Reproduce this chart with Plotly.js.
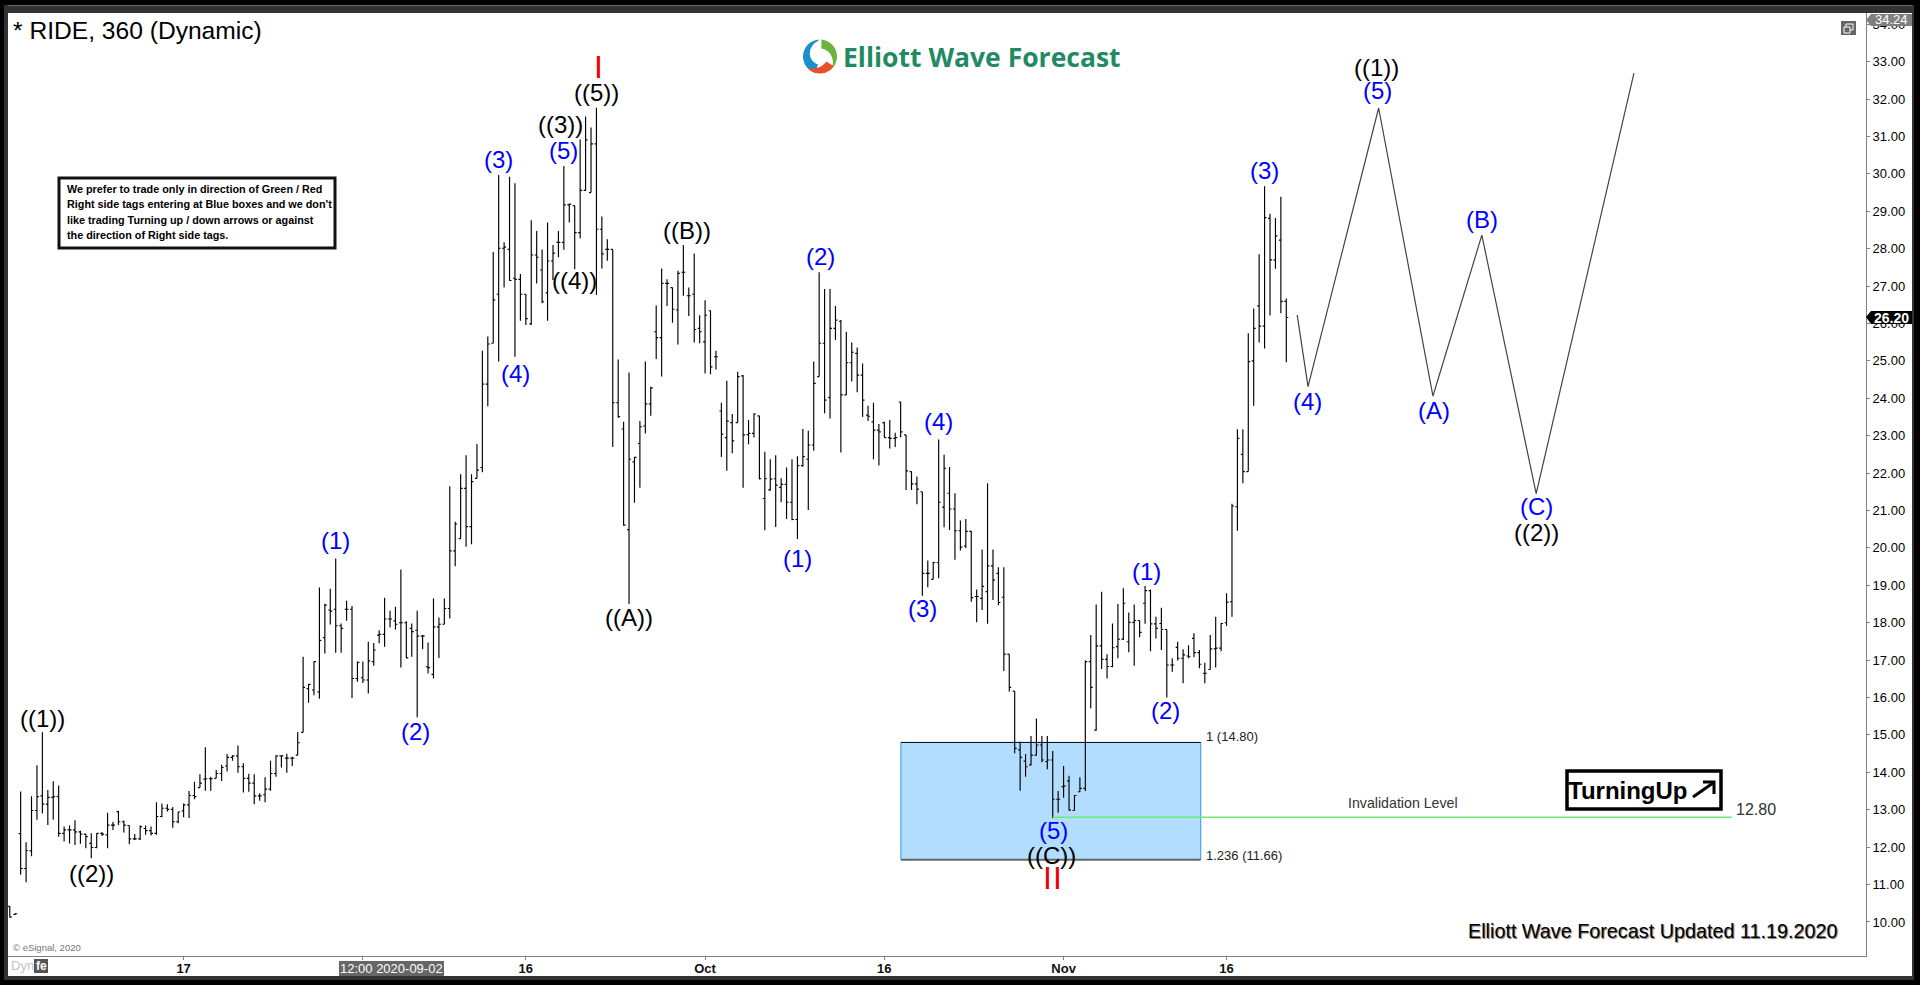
<!DOCTYPE html>
<html>
<head>
<meta charset="utf-8">
<script src="https://cdn.plot.ly/plotly-3.0.1.min.js"></script>
<style>html,body{margin:0;padding:0;background:#000;overflow:hidden}#chart{width:1920px;height:985px}</style>
</head>
<body>
<div id="chart"></div>
<script>
// ---------- chart values ----------
const opens = [
10.42,10.20,12.36,11.43,11.90,12.98,13.37,13.15,13.33,13.35,
12.37,12.46,12.46,12.41,12.35,12.10,11.99,12.37,12.33,12.59,
12.95,12.68,12.58,12.22,12.22,12.50,12.44,12.37,12.82,13.04,
13.01,12.68,12.97,13.13,13.38,13.59,13.82,13.83,13.84,13.97,
14.17,14.40,14.44,14.15,13.84,13.71,13.37,13.40,13.55,13.97,
14.44,14.38,14.38,14.46,15.07,16.24,16.20,16.15,17.60,18.34,
18.36,17.92,18.36,18.36,16.51,16.53,16.47,16.96,17.67,17.69,
18.10,18.05,18.00,18.00,17.85,17.80,17.64,16.82,16.62,17.89,
17.96,18.38,19.92,20.25,21.59,20.57,21.86,22.15,24.38,25.47,
26.78,28.01,27.98,27.21,27.18,26.78,25.99,27.83,27.43,26.82,
27.67,28.17,28.17,29.17,29.15,28.43,29.56,29.50,30.80,28.52,
27.98,27.98,23.88,23.18,20.49,22.30,22.79,23.26,23.85,25.78,
25.62,27.07,26.96,26.36,27.37,26.74,26.78,25.87,25.51,26.34,
25.11,23.66,22.95,23.35,23.35,24.60,23.03,23.06,23.53,21.32,
21.55,21.85,21.62,21.70,21.22,20.76,22.20,22.37,22.75,24.58,
25.47,24.02,25.87,26.06,24.09,24.95,25.20,24.62,23.55,23.37,
23.15,23.35,22.95,22.93,23.90,23.02,22.04,21.71,21.50,19.32,
19.16,19.61,21.09,21.46,21.04,20.46,20.05,20.44,18.70,18.65,
18.83,19.52,19.32,18.68,17.16,16.17,14.60,14.30,14.20,14.46,
14.73,14.29,14.33,13.28,13.62,13.77,12.98,13.48,13.57,16.96,
15.13,17.38,17.02,16.83,17.36,17.56,17.49,18.01,18.06,18.52,
18.86,17.97,17.98,17.82,16.87,17.34,17.05,17.11,17.58,17.20,
16.65,16.75,17.30,17.32,18.00,18.56,21.10,22.50,22.04,25.00,
26.47,25.93,28.81,27.70,28.23,26.59];
const highs = [
10.43,10.24,13.49,12.13,13.36,14.19,15.07,13.53,13.76,13.65,
12.55,12.58,12.72,12.44,12.35,12.37,12.37,12.40,12.92,12.68,
12.97,12.71,12.58,12.35,12.58,12.58,12.55,13.20,13.17,13.15,
13.07,12.95,13.17,13.50,13.75,13.95,14.67,13.88,14.06,14.20,
14.49,14.46,14.72,14.24,13.96,13.95,13.44,13.87,14.31,14.46,
14.46,14.50,14.42,15.07,17.09,16.36,16.96,18.94,18.51,18.91,
19.72,17.98,18.59,18.45,16.96,16.96,17.49,17.46,17.80,18.67,
18.32,18.43,19.42,18.04,17.98,18.32,17.67,17.47,18.65,18.14,
18.65,21.65,20.70,21.97,22.48,21.97,22.78,25.27,25.65,27.91,
29.97,28.17,29.92,29.75,27.32,26.78,28.76,28.47,27.98,28.70,
28.10,28.47,30.21,29.21,29.15,30.92,31.53,31.24,31.77,28.86,
28.25,27.98,25.04,23.37,24.69,22.44,23.39,24.98,24.31,26.48,
27.47,27.18,26.96,27.41,28.10,26.96,27.87,26.22,26.62,26.35,
25.27,23.88,24.47,23.58,24.71,24.62,23.42,23.60,23.53,22.57,
22.37,22.48,21.86,22.15,22.37,22.45,23.18,23.13,24.98,27.37,
26.92,26.92,26.47,26.09,25.78,25.49,25.36,24.93,23.80,23.88,
23.31,23.37,23.42,23.08,23.91,23.02,22.04,21.91,21.50,19.66,
19.63,22.90,22.49,22.16,21.46,20.73,20.77,20.46,18.89,19.96,
21.73,19.96,19.48,19.48,17.16,16.17,14.82,14.49,14.97,15.44,
14.97,14.97,14.57,13.50,14.17,13.91,13.39,13.87,16.99,17.67,
18.49,18.83,17.16,17.98,18.50,18.92,18.27,18.49,18.06,18.98,
18.89,18.16,18.40,17.82,17.05,17.49,17.29,17.40,17.72,17.27,
16.93,17.67,18.16,18.00,18.79,21.18,23.17,23.17,25.74,26.40,
27.85,29.67,28.93,28.82,29.39,26.67];
const lows = [
10.12,10.19,11.26,11.06,11.76,12.73,12.90,12.59,12.73,12.28,
12.15,12.10,12.06,12.09,11.97,11.70,11.97,12.30,11.97,12.46,
12.59,12.39,12.08,12.19,12.19,12.33,12.31,12.33,12.80,12.95,
12.52,12.64,12.80,12.78,13.28,13.59,13.51,13.51,13.84,13.77,
14.02,14.31,13.99,13.46,13.48,13.15,13.24,13.20,13.51,13.88,
14.13,13.99,14.17,14.46,15.07,15.86,16.06,15.97,17.18,17.95,
17.20,17.20,18.05,15.99,16.42,16.39,16.11,16.85,17.45,17.36,
17.87,17.82,16.80,17.05,17.09,15.47,17.29,16.64,16.51,17.06,
17.96,18.11,19.51,20.25,20.03,20.10,21.86,22.02,23.79,25.47,
24.98,26.96,27.14,25.11,26.07,25.96,25.96,27.07,26.54,26.07,
27.16,27.77,27.97,28.70,27.45,28.27,29.55,29.50,26.76,27.47,
27.68,22.70,23.48,20.59,18.50,21.21,21.61,23.06,23.53,25.05,
24.58,26.47,26.02,25.44,26.74,26.20,25.49,25.47,24.66,24.64,
24.77,22.43,22.06,22.53,23.35,21.61,22.77,22.95,21.83,20.47,
21.53,20.56,21.22,20.77,20.74,20.24,22.17,21.01,22.60,24.58,
23.60,23.46,25.56,22.55,24.09,24.45,24.16,23.50,23.39,22.37,
22.20,22.95,22.66,22.70,22.96,21.55,21.55,21.17,18.72,18.95,
19.16,19.19,20.55,20.48,19.68,19.93,20.00,18.56,18.01,18.34,
17.97,18.61,18.47,16.71,16.16,14.51,13.51,13.88,14.18,14.45,
14.27,14.08,12.77,12.92,13.32,12.98,12.98,13.48,13.50,15.71,
15.11,16.76,16.51,16.81,17.05,17.54,17.21,16.85,17.61,17.97,
17.24,17.58,17.27,16.00,16.69,16.99,16.38,17.05,17.08,16.78,
16.38,16.75,16.80,17.24,17.91,18.16,20.46,21.73,22.04,23.80,
25.49,25.33,26.21,27.46,26.27,24.96];
const closes = [
10.13,10.22,11.43,11.91,12.98,13.35,13.15,13.33,13.35,12.37,
12.46,12.46,12.41,12.35,12.28,11.99,12.37,12.35,12.59,12.59,
12.68,12.59,12.22,12.22,12.55,12.44,12.37,12.82,13.04,13.01,
12.68,12.94,13.13,13.38,13.35,13.71,13.83,13.83,13.97,14.13,
14.40,14.44,14.15,13.84,13.71,13.37,13.37,13.55,13.97,14.44,
14.44,14.38,14.38,14.79,16.27,16.35,16.96,17.53,18.47,18.31,
17.92,17.85,18.36,16.51,16.94,16.47,16.98,17.27,17.69,18.10,
18.10,17.96,18.00,17.06,17.76,17.64,17.65,16.80,17.89,17.96,
18.38,19.92,20.64,21.59,20.57,21.77,22.08,24.38,25.45,26.63,
28.01,28.04,27.15,27.18,26.78,26.13,27.83,27.77,26.58,27.67,
27.88,28.17,29.17,29.19,28.43,29.56,30.91,30.80,28.52,27.86,
27.98,23.88,23.51,20.61,22.37,22.42,23.24,23.85,24.28,25.62,
27.07,27.07,26.38,27.34,27.37,26.74,25.84,25.78,26.22,24.84,
25.11,23.04,23.39,22.86,24.58,23.02,23.06,23.58,21.85,21.85,
21.84,21.68,21.70,21.22,20.76,22.20,22.44,22.75,24.40,25.47,
23.95,25.87,26.09,24.09,24.95,25.23,24.62,23.95,23.52,23.15,
23.10,22.95,22.93,22.95,23.10,22.06,21.71,21.57,19.32,19.32,
19.61,21.22,22.13,21.04,20.46,20.02,20.44,18.67,18.70,18.97,
19.52,19.14,18.54,17.16,16.27,14.64,14.40,14.15,14.46,14.73,
14.33,14.33,13.28,13.28,13.63,12.99,13.38,13.57,16.96,16.27,
17.38,17.02,16.83,17.33,17.56,18.52,18.01,18.06,17.74,18.86,
17.97,17.85,17.82,16.87,16.87,17.05,17.14,17.09,17.20,16.89,
16.65,17.30,17.32,17.98,18.55,21.12,22.93,22.04,24.98,25.87,
25.93,28.83,27.70,28.34,26.59,26.16];

const forecastBars   = [237, 239, 252, 262, 271, 281, 299];
const forecastPrices = [26.23, 24.31, 31.76, 24.06, 28.36, 21.45, 32.69];

const xTickBars   = [32, 65, 95, 128, 161, 194, 224];
const xTickLabels = ['17', '', '16', 'Oct', '16', 'Nov', '16'];
const yTicks = [10,11,12,13,14,15,16,17,18,19,20,21,22,23,24,25,26,27,28,29,30,31,32,33,34];

const boxBars = [164.05, 219.25];
const boxTop = 14.80, boxBottom = 11.66;
const invalidationBars = [192, 317];
const invalidationLevel = 12.80;

// wave labels: text, bar, price
const blueLabels = [
 ['(1)',60.05,20.13],['(2)',74.7,15.02],['(3)',90.06,30.33],['(4)',93.1,24.6],['(5)',102,30.57],
 ['(2)',149.2,27.72],['(1)',145.1,19.65],['(3)',168,18.32],['(4)',171,23.31],['(5)',192.05,12.39],
 ['(1)',209.3,19.3],['(2)',212.8,15.59],['(3)',230.9,30.02],['(4)',238.9,23.85],['(5)',251.8,32.16],
 ['(A)',262.2,23.62],['(B)',271,28.72],['(C)',281.1,21.04]];
const blackLabels = [
 ['((1))',6.06,15.38],['((2))',14.95,11.24],['((3))',101.3,31.26],['((4))',104.05,27.08],['((5))',108.05,32.11],
 ['((A))',114.06,18.08],['((B))',124.6,28.43],['((C))',191.8,11.72],['((1))',251.65,32.78],['((2))',281.1,20.34]];
const redLabels = [['I',108.3,32.79],['I',191,11.12],['I',192.8,11.12]];

const noteLines = [
 'We prefer to trade only in direction of Green / Red',
 "Right side tags entering at Blue boxes and we don't",
 'like trading Turning up / down arrows or against',
 'the direction of Right side tags.'];

// ---------- page geometry ----------
const L=8, R=1866, T=13, B=956;
const px = x => (x-L)/(R-L);
const py = y => (B-y)/(B-T);
const FONT = 'Liberation Sans, Arial, sans-serif';
const NARROW = 'Liberation Sans Narrow, Liberation Sans, Arial, sans-serif';

function rectPx(x0,y0,x1,y1,fill,layer,lineColor,lineWidth){
  return {type:'rect',xref:'paper',yref:'paper',x0:px(x0),x1:px(x1),y0:py(y1),y1:py(y0),
    fillcolor:fill,layer:layer||'below',line:{color:lineColor||fill,width:lineColor?(lineWidth||1):0}};
}
function pathPx(points,fill,lineColor,lineWidth,closed){
  const d = points.map((p,i)=>(i?'L ':'M ')+px(p[0]).toFixed(6)+' '+py(p[1]).toFixed(6)).join(' ')+(closed?' Z':'');
  return {type:'path',xref:'paper',yref:'paper',path:d,fillcolor:fill||'rgba(0,0,0,0)',layer:'above',
    line:{color:lineColor||'rgba(0,0,0,0)',width:lineColor?(lineWidth||1):0}};
}
function textPx(text,x,y,size,color,opts){
  return Object.assign({xref:'paper',yref:'paper',x:px(x),y:py(y),text:text,showarrow:false,
    xanchor:'center',yanchor:'middle',font:{family:FONT,size:size,color:color}},opts||{});
}
function waveLabel(item,color,size){
  return {xref:'x',yref:'y',x:item[1],y:item[2],yshift:2.2,text:item[0],showarrow:false,
    xanchor:'center',yanchor:'middle',font:{family:FONT,size:size,color:color}};
}
function blade(cx,cy,a0,a1,rO,rI,color){
  const pts=[];
  for(let a=a0;a<=a1;a+=8){const t=a*Math.PI/180;pts.push([cx+rO*Math.cos(t),cy+rO*Math.sin(t)]);}
  for(let a=a1;a>=a0;a-=8){const t=a*Math.PI/180;const f=(a-a0)/(a1-a0);const r=rI+(rO-rI-1)*f*f;
    pts.push([cx+r*Math.cos(t),cy+r*Math.sin(t)]);}
  return pathPx(pts,color,null,0,true);
}

// ---------- shapes ----------
const shapes = [
  // window frame
  rectPx(4,5,1914,13,'#333333'),
  rectPx(4,5,1914,6,'#6a6a6a'),
  rectPx(4,5,8,980,'#333333'),
  rectPx(1912,5,1914,980,'#333333'),
  rectPx(4,976,1914,980,'#333333'),
  rectPx(8,956,1912,976,'#ffffff'),
  rectPx(1866,13,1912,976,'#ffffff'),
  // blue entry box
  {type:'rect',xref:'x',yref:'y',x0:boxBars[0],x1:boxBars[1],y0:boxBottom,y1:boxTop,
   fillcolor:'#b3ddff',layer:'below',line:{width:0}},
  {type:'line',xref:'x',yref:'y',x0:boxBars[0],x1:boxBars[0],y0:boxBottom,y1:boxTop,layer:'below',line:{color:'#2a97ea',width:1}},
  {type:'line',xref:'x',yref:'y',x0:boxBars[1],x1:boxBars[1],y0:boxBottom,y1:boxTop,layer:'below',line:{color:'#2a97ea',width:1}},
  {type:'line',xref:'x',yref:'y',x0:boxBars[0],x1:boxBars[1],y0:boxTop,y1:boxTop,layer:'below',line:{color:'#000000',width:1}},
  {type:'line',xref:'x',yref:'y',x0:boxBars[0],x1:boxBars[1],y0:boxBottom,y1:boxBottom,layer:'below',line:{color:'#666666',width:2}},
  // invalidation level
  {type:'line',xref:'x',yref:'y',x0:invalidationBars[0],x1:invalidationBars[1],y0:invalidationLevel,y1:invalidationLevel,
   layer:'above',line:{color:'#66ee77',width:1.5}},
  // note box
  rectPx(59,178,335,248,'#ffffff','below','#111111',3),
  // turning-up box
  rectPx(1567,771,1721,809,'#ffffff','below','#000000',3.5),
  // price tags
  pathPx([[1866,20],[1871,14],[1912,14],[1912,26],[1871,26]],'#808080',null,0,true),
  pathPx([[1866,317],[1871,311],[1912,311],[1912,324],[1871,324]],'#000000',null,0,true),
  // window button
  rectPx(1841,21,1856,35,'#666666','above'),
  rectPx(1846,24,1853,30,'rgba(0,0,0,0)','above','#ffffff',1),
  rectPx(1844,27,1850,33,'#666666','above','#ffffff',1),
  // fe icon
  rectPx(34,959,48,973,'#555555','below'),
  // crosshair date box
  rectPx(339,961,444,976,'#666666','above'),
  // turning-up arrow
  pathPx([[1693,797],[1713,783]],null,'#000000',3),
  pathPx([[1703,782],[1714,782],[1714,794]],null,'#000000',3),
  // logo
  blade(820,56.5,105,265,17,8,'#1b8fc9'),
  blade(820,56.5,-85,40,17,8,'#6cb33f'),
  blade(820,56.5,35,135,17,8,'#e8502a')
];

// ---------- annotations ----------
const annotations = []
  .concat(blueLabels.map(l=>waveLabel(l,'#0000ff',24)))
  .concat(blackLabels.map(l=>waveLabel(l,'#000000',24)))
  .concat(redLabels.map(l=>waveLabel(l,'#ee0000',32)))
  .concat(noteLines.map((t,i)=>textPx(t,64.5,189+i*15.35,10.8,'#000000',{xanchor:'left',font:{family:FONT,size:10.8,color:'#000',weight:'bold'}})))
  .concat([
    textPx('* RIDE, 360 (Dynamic)',10.5,31,24.6,'#000000',{xanchor:'left'}),
    textPx('Elliott Wave Forecast',841,57.5,26.5,'#1f8a63',{xanchor:'left',font:{family:'Open Sans, '+FONT,size:26.5,color:'#1f8a63',weight:'bold'}}),
    textPx('1 (14.80)',1204,736.5,13,'#222222',{xanchor:'left'}),
    textPx('1.236 (11.66)',1204,855,13,'#222222',{xanchor:'left'}),
    textPx('Invalidation Level',1403,803,14.2,'#333333'),
    textPx('12.80',1756,809,16,'#333333'),
    textPx('TurningUp',1628,790.5,24,'#000000',{font:{family:NARROW,size:24,color:'#000',weight:'bold'}}),
    textPx('Elliott Wave Forecast Updated 11.19.2020',1652,930.5,19.8,'#000000',{font:{family:FONT,size:19.8,color:'#000',shadow:'1px 1px 1px #777777'}}),
    textPx('© eSignal, 2020',10.5,947,9.5,'#777777',{xanchor:'left'}),
    textPx('Dyn',8.5,966,13,'#c4c4c4',{xanchor:'left'}),
    textPx('fe',41,966,12,'#ffffff',{font:{family:FONT,size:12,color:'#fff',weight:'bold'}}),
    textPx('12:00 2020-09-02',391.5,968.5,13,'#ffffff'),
    textPx('34.24',1891,20,13,'#ffffff'),
    textPx('26.20',1891,317.5,14,'#ffffff',{font:{family:FONT,size:14,color:'#fff',weight:'bold'}})
  ]);

// ---------- traces ----------
const barIndex = opens.map((_,i)=>i);
const traces = [
  {type:'ohlc',x:barIndex,open:opens,high:highs,low:lows,close:closes,
   increasing:{line:{color:'#000000',width:1.15}},decreasing:{line:{color:'#000000',width:1.15}},
   tickwidth:0.36,hoverinfo:'skip',showlegend:false},
  {type:'scatter',mode:'lines',x:forecastBars,y:forecastPrices,
   line:{color:'#444444',width:1.2},hoverinfo:'skip',showlegend:false}
];

const layout = {
  width:1920,height:985,autosize:false,showlegend:false,
  paper_bgcolor:'#000000',plot_bgcolor:'#ffffff',
  margin:{l:L,r:1920-R,t:T,b:985-B,pad:0},
  dragmode:false,
  xaxis:{type:'linear',range:[-0.33,341.72],showgrid:false,zeroline:false,fixedrange:true,
    rangeslider:{visible:false},tickmode:'array',tickvals:xTickBars,ticktext:xTickLabels,
    ticks:'outside',ticklen:3,tickcolor:'#808080',showline:true,linecolor:'#808080',linewidth:1,
    ticklabelstandoff:-3,
    tickfont:{family:FONT,size:13,color:'#111111',weight:'bold'},automargin:false},
  yaxis:{type:'linear',side:'right',range:[9.09,34.30],showgrid:false,zeroline:false,fixedrange:true,
    tickmode:'array',tickvals:yTicks,ticktext:yTicks.map(v=>v.toFixed(2)),
    ticks:'outside',ticklen:3,tickcolor:'#808080',showline:true,linecolor:'#808080',linewidth:1,
    tickfont:{family:FONT,size:13,color:'#000000'},automargin:false},
  shapes:shapes,annotations:annotations
};

Plotly.newPlot('chart',traces,layout,{displayModeBar:false,staticPlot:true});
</script>
</body>
</html>
